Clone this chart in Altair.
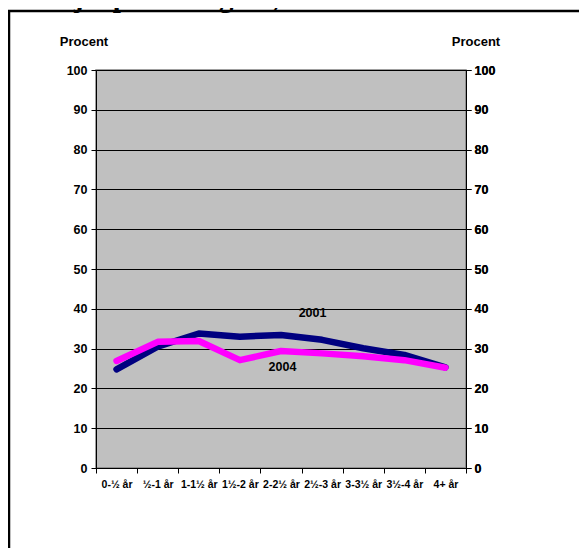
import altair as alt
import pandas as pd

categories = ["0-½ år", "½-1 år", "1-1½ år", "1½-2 år", "2-2½ år",
              "2½-3 år", "3-3½ år", "3½-4 år", "4+ år"]
v2001 = [24.8, 30.5, 33.8, 33.0, 33.4, 32.2, 30.1, 28.4, 25.3]
v2004 = [26.9, 31.7, 31.9, 27.1, 29.4, 28.8, 28.1, 27.1, 25.2]
y_ticks = list(range(0, 101, 10))
title_text = "starthjælpsmodtagere, 2001-2004"
axis_title = "Procent"
ann_labels = ["2001", "2004"]
ann_cats = ["2½-3 år", "2-2½ år"]
ann_vals = [38.9, 25.4]
ann_dx = [11, 22]

W, H = 370, 398
FONT = "Liberation Sans"

df01 = pd.DataFrame({"cat": categories, "value": v2001})
df04 = pd.DataFrame({"cat": categories, "value": v2004})
ann = pd.DataFrame({"label": ann_labels, "cat": ann_cats, "value": ann_vals, "dx": ann_dx})
one = pd.DataFrame({"k": [0]})

xscale = alt.Scale(domain=categories, paddingInner=0, paddingOuter=0)
yscale = alt.Scale(domain=[0, 100], nice=False, zero=True)

x_axis = alt.Axis(title=None, tickBand="extent", labelAngle=0, grid=False,
                  labelFont=FONT, labelFontWeight="bold", labelFontSize=10.5,
                  labelColor="black", domainColor="black", tickColor="black",
                  tickSize=5, labelPadding=6, domainWidth=1, labelBaseline="top")
X = alt.X("cat:N", sort=categories, scale=xscale, axis=x_axis)

y_left = alt.Axis(title=None, values=y_ticks, orient="left", grid=True,
                  gridColor="black", gridWidth=1, labelFont=FONT,
                  labelFontWeight="bold", labelFontSize=12.5, labelColor="black",
                  domainColor="black", tickColor="black", tickSize=5,
                  labelPadding=4)
y_right = alt.Axis(title=None, values=y_ticks, orient="right", grid=False,
                   labelFont=FONT, labelFontWeight="bold", labelFontSize=12.5,
                   labelColor="black", domainColor="black", tickColor="black",
                   tickSize=5, labelPadding=3)

line01 = alt.Chart(df01).mark_line(color="#000080", strokeWidth=6.5,
                                   strokeCap="round", strokeJoin="round").encode(
    x=X,
    y=alt.Y("value:Q", scale=yscale, axis=y_left),
)
line04 = alt.Chart(df04).mark_line(color="#FF00FF", strokeWidth=6.5,
                                   strokeCap="round", strokeJoin="round").encode(
    x=X,
    y=alt.Y("value:Q", scale=yscale, axis=y_right),
)
labels = alt.Chart(ann).mark_text(font=FONT, fontWeight="bold", fontSize=12.5,
                                  color="black").encode(
    x=X,
    y=alt.Y("value:Q", scale=yscale, axis=y_right),
    text="label:N",
    xOffset=alt.XOffset("dx:Q", scale=None),
)

ttl_left = alt.Chart(one).mark_text(text=axis_title, font=FONT, fontWeight="bold",
                                    fontSize=13, color="black").encode(
    x=alt.value(-12), y=alt.value(-28))
ttl_right = alt.Chart(one).mark_text(text=axis_title, font=FONT, fontWeight="bold",
                                     fontSize=13, color="black").encode(
    x=alt.value(380), y=alt.value(-28))
top_title = alt.Chart(one).mark_text(text=title_text, font="Liberation Serif",
                                     fontWeight="bold", fontSize=29, color="black",
                                     align="left", baseline="alphabetic").encode(
    x=alt.value(-96), y=alt.value(-63))
frame_top = alt.Chart(one).mark_rule(color="black", strokeWidth=2.5).encode(
    x=alt.value(-88), x2=alt.value(483), y=alt.value(-59))
frame_left = alt.Chart(one).mark_rule(color="black", strokeWidth=2.5).encode(
    x=alt.value(-87), y=alt.value(-59), y2=alt.value(480))

chart = alt.layer(
    line01, line04, labels, ttl_left, ttl_right, top_title, frame_top, frame_left
).resolve_axis(y="independent").properties(
    width=W, height=H,
    autosize=alt.AutoSizeParams(type="none"),
    padding={"left": 88, "top": 62, "right": 113, "bottom": 80},
).configure_view(fill="#C0C0C0", stroke="#808080", strokeWidth=1.5)

chart.save("out.html", embed_options={"renderer": "svg", "actions": False})
